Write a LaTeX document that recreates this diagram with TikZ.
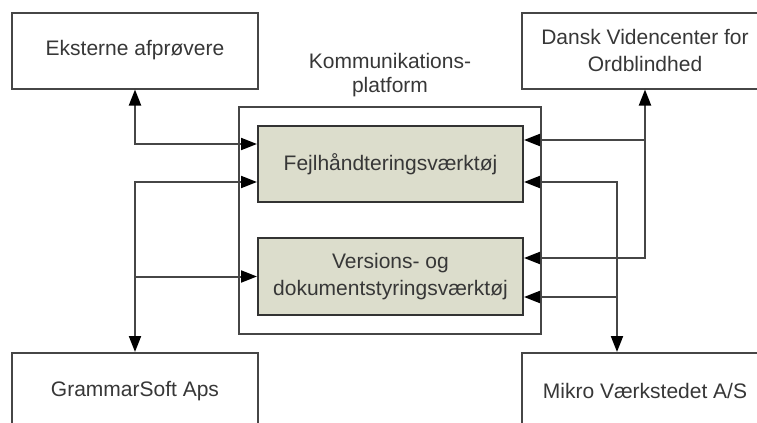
\documentclass[tikz,border=0pt]{standalone}
\usepackage{fontspec}
\setmainfont{Liberation Sans}
\usepackage{tikz}
\usetikzlibrary{arrows.meta, positioning}
\definecolor{boxgray}{RGB}{70, 70, 70}
\definecolor{textgray}{RGB}{55, 55, 55}
\definecolor{toolfill}{RGB}{220, 221, 204}

\tikzset{
  party/.style={draw=boxgray, line width=1pt, fill=white, text=textgray, align=center,
    minimum width=123pt, minimum height=38pt, inner sep=2pt,
    font=\fontsize{10.5}{13.5}\selectfont},
  tool/.style={party, fill=toolfill, draw=black!80, minimum width=132.5pt},
  platformbox/.style={draw=boxgray, line width=1pt, minimum width=151pt, minimum height=113.5pt},
  plabel/.style={text=textgray, align=center, font=\fontsize{10.5}{12}\selectfont},
  link/.style={draw=boxgray, line width=1pt}
}

\begin{document}
\begin{tikzpicture}[x=0.5pt, y=-0.5pt, >={Triangle[length=8pt, width=6pt, color=black]}]
  \useasboundingbox (0,0) rectangle (757,423);
  \clip (0,0) rectangle (757,423);

  \node[party] (eksterne) at (135,50.5) {Eksterne afprøvere};
  \node[party] (dansk) at (645,50.5) {Dansk Videncenter for\\Ordblindhed};
  \node[party] (grammar) at (135,391) {GrammarSoft Aps};
  \node[party] (mikro) at (645,391) {Mikro Værkstedet A/S};

  \node[platformbox] (platform) at (390,220.5) {};
  \node[plabel] (platformlabel) at (390,75) {Kommunikations-\\platform};

  \node[tool] (fejl) at (390.5,164) {Fejlhåndteringsværktøj};
  \node[tool, minimum height=38.5pt] (versions) at (390.5,276.5) {Versions- og\\dokumentstyringsværktøj};

  % end points on the tools
  \coordinate (fejlA) at ([yshift=10pt]fejl.west);
  \coordinate (fejlB) at ([yshift=-9pt]fejl.west);
  \coordinate (fejlC) at ([yshift=12pt]fejl.east);
  \coordinate (fejlD) at ([yshift=-9pt]fejl.east);
  \coordinate (versC) at ([yshift=9.25pt]versions.east);
  \coordinate (versD) at ([yshift=-10.25pt]versions.east);
  \coordinate (mikrotop) at ([xshift=-14pt]mikro.north);

  \draw[link, <->] (eksterne.south) |- (fejlA);
  \draw[link, <->] (fejlB) -| (grammar.north);
  \draw[link, ->] (grammar.north |- versions.west) -- (versions.west);
  \draw[link, <->] (dansk.south) |- (versC);
  \draw[link, ->] (dansk.south |- fejlC) -- (fejlC);
  \draw[link, <->] (fejlD) -| (mikrotop);
  \draw[link, ->] (mikrotop |- versD) -- (versD);
\end{tikzpicture}
\end{document}
